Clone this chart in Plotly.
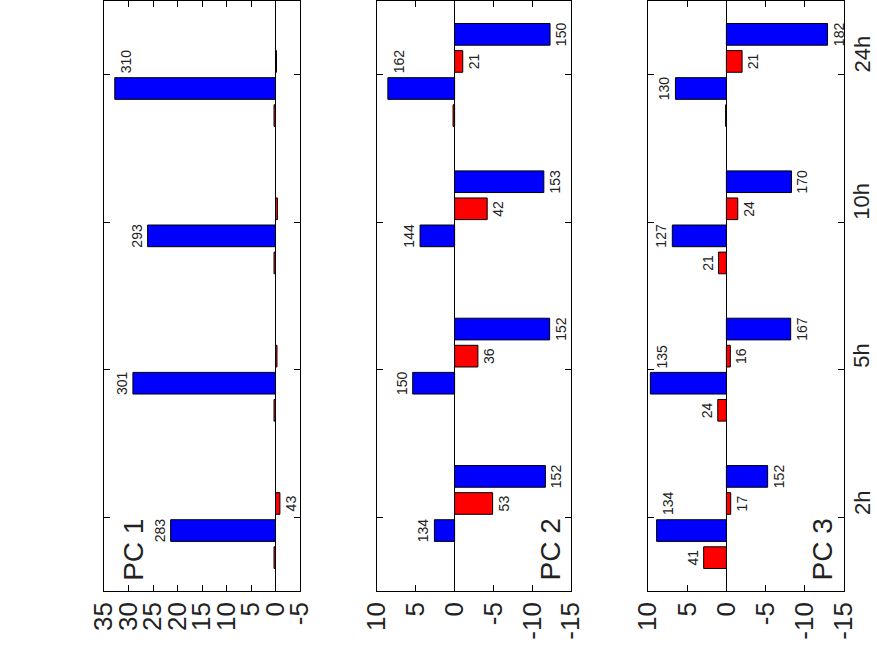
import plotly.graph_objects as go

W, H = 877, 648

categories = ["2h", "5h", "10h", "24h"]
panel_titles = ["PC 1", "PC 2", "PC 3"]

# PC 1 loadings per time point (four bar series per group)
pc1_red_a = [0.3, 0.3, 0.3, 0.3]
pc1_red_a_lbl = ["", "", "", ""]
pc1_blue_a = [21.4, 29.1, 26.1, 32.8]
pc1_blue_a_lbl = ["283", "301", "293", "310"]
pc1_red_b = [-0.9, -0.3, -0.4, -0.2]
pc1_red_b_lbl = ["43", "", "", ""]
pc1_blue_b = [None, None, None, None]
pc1_blue_b_lbl = ["", "", "", ""]

# PC 2
pc2_red_a = [None, None, None, 0.2]
pc2_red_a_lbl = ["", "", "", ""]
pc2_blue_a = [2.6, 5.4, 4.45, 8.6]
pc2_blue_a_lbl = ["134", "150", "144", "162"]
pc2_red_b = [-4.9, -3.0, -4.2, -1.05]
pc2_red_b_lbl = ["53", "36", "42", "21"]
pc2_blue_b = [-11.7, -12.25, -11.5, -12.3]
pc2_blue_b_lbl = ["152", "152", "153", "150"]

# PC 3
pc3_red_a = [2.9, 1.1, 1.0, 0.1]
pc3_red_a_lbl = ["41", "24", "21", ""]
pc3_blue_a = [8.9, 9.7, 6.9, 6.5]
pc3_blue_a_lbl = ["134", "135", "127", "130"]
pc3_red_b = [-0.55, -0.5, -1.45, -2.0]
pc3_red_b_lbl = ["17", "16", "24", "21"]
pc3_blue_b = [-5.26, -8.2, -8.3, -12.9]
pc3_blue_b_lbl = ["152", "167", "170", "182"]

pc1_ticks = [35, 30, 25, 20, 15, 10, 5, 0, -5]
pc23_ticks = [10, 5, 0, -5, -10, -15]

RED = "#ff0000"
BLUE = "#0000ff"
FONT = "Liberation Sans, Arial, sans-serif"
INK = "#222222"
LABEL_SIZE = 14

panels = [
    dict(series=[(pc1_red_a, pc1_red_a_lbl, RED), (pc1_blue_a, pc1_blue_a_lbl, BLUE),
                 (pc1_red_b, pc1_red_b_lbl, RED), (pc1_blue_b, pc1_blue_b_lbl, BLUE)],
         ticks=pc1_ticks, xpx=(104, 300), title_at=(29, -0.22)),
    dict(series=[(pc2_red_a, pc2_red_a_lbl, RED), (pc2_blue_a, pc2_blue_a_lbl, BLUE),
                 (pc2_red_b, pc2_red_b_lbl, RED), (pc2_blue_b, pc2_blue_b_lbl, BLUE)],
         ticks=pc23_ticks, xpx=(377, 571), title_at=(-12.3, -0.22)),
    dict(series=[(pc3_red_a, pc3_red_a_lbl, RED), (pc3_blue_a, pc3_blue_a_lbl, BLUE),
                 (pc3_red_b, pc3_red_b_lbl, RED), (pc3_blue_b, pc3_blue_b_lbl, BLUE)],
         ticks=pc23_ticks, xpx=(648, 844), title_at=(-12.2, -0.22)),
]

plot_top, plot_bottom = 1.3, 590.7
ydom = [(H - plot_bottom) / H, (H - plot_top) / H]

BARGAP = 0.265
n_series = 4
slot = (1 - BARGAP) / n_series  # category units taken by one bar slot

fig = go.Figure()
layout = dict(
    width=W, height=H, autosize=False,
    margin=dict(l=0, r=0, t=0, b=0),
    paper_bgcolor="white", plot_bgcolor="white",
    barmode="group", bargap=BARGAP, bargroupgap=0.2,
    showlegend=False,
    font=dict(family=FONT, color=INK),
)
annotations = []

for p, panel in enumerate(panels):
    k = "" if p == 0 else str(p + 1)
    ticks = panel["ticks"]
    lo_px, hi_px = panel["xpx"]
    px_per_unit = (hi_px - lo_px) / (ticks[0] - ticks[-1])
    for s, (vals, lbls, col) in enumerate(panel["series"]):
        bar_text = []
        for i, (v, lab) in enumerate(zip(vals, lbls)):
            room = None
            if v is not None and lab:
                edge = ticks[0] if v >= 0 else ticks[-1]
                room = abs(edge - v) * px_per_unit
            if room is not None and room < 14:
                # not enough room beyond the bar end: label goes beside the bar, one slot up
                bar_text.append("")
                ypos = i + (s - (n_series - 1) / 2) * slot + slot
                annotations.append(dict(
                    x=v, y=ypos, xref="x" + k, yref="y" + k,
                    text=lab, textangle=-90, showarrow=False,
                    xanchor="left" if v >= 0 else "right", yanchor="middle",
                    xshift=2 if v >= 0 else -2,
                    font=dict(size=LABEL_SIZE, family=FONT, color=INK),
                ))
            else:
                bar_text.append(lab)
        fig.add_trace(go.Bar(
            y=categories, x=vals, orientation="h",
            xaxis="x" + k, yaxis="y" + k,
            marker=dict(color=col, line=dict(color="black", width=1)),
            text=bar_text, textposition="outside", textangle=-90,
            constraintext="none", cliponaxis=False,
            textfont=dict(size=LABEL_SIZE, family=FONT, color=INK),
        ))
    layout["xaxis" + k] = dict(
        domain=[lo_px / W, hi_px / W],
        anchor="y" + k,
        range=[ticks[0], ticks[-1]],
        tickmode="array", tickvals=ticks, ticktext=[str(v) for v in ticks],
        tickangle=-90, tickfont=dict(size=26, family=FONT, color=INK),
        ticks="inside", ticklen=6, tickcolor="black",
        showline=True, linecolor="black", linewidth=1, mirror="ticks",
        showgrid=False, zeroline=True, zerolinecolor="black", zerolinewidth=1,
        automargin=False,
    )
    layout["yaxis" + k] = dict(
        domain=ydom, anchor="x" + k,
        type="category", categoryorder="array", categoryarray=categories,
        range=[-0.5, 3.5],
        showticklabels=False,
        ticks="inside", ticklen=6, tickcolor="black",
        showline=True, linecolor="black", linewidth=1, mirror="ticks",
        showgrid=False, zeroline=False, automargin=False,
    )
    tx, ty = panel["title_at"]
    annotations.append(dict(
        x=tx, y=ty, xref="x" + k, yref="y" + k,
        text=panel_titles[p], textangle=-90, showarrow=False,
        xanchor="center", yanchor="middle",
        font=dict(size=28, family=FONT, color=INK),
    ))

# time-point labels along the right-hand side
for i, c in enumerate(categories):
    annotations.append(dict(
        x=862 / W, y=i, xref="paper", yref="y3",
        text=c, textangle=-90, showarrow=False,
        xanchor="center", yanchor="bottom",
        font=dict(size=22, family=FONT, color=INK),
    ))

layout["annotations"] = annotations
fig.update_layout(**layout)
fig.write_html("out.html")
